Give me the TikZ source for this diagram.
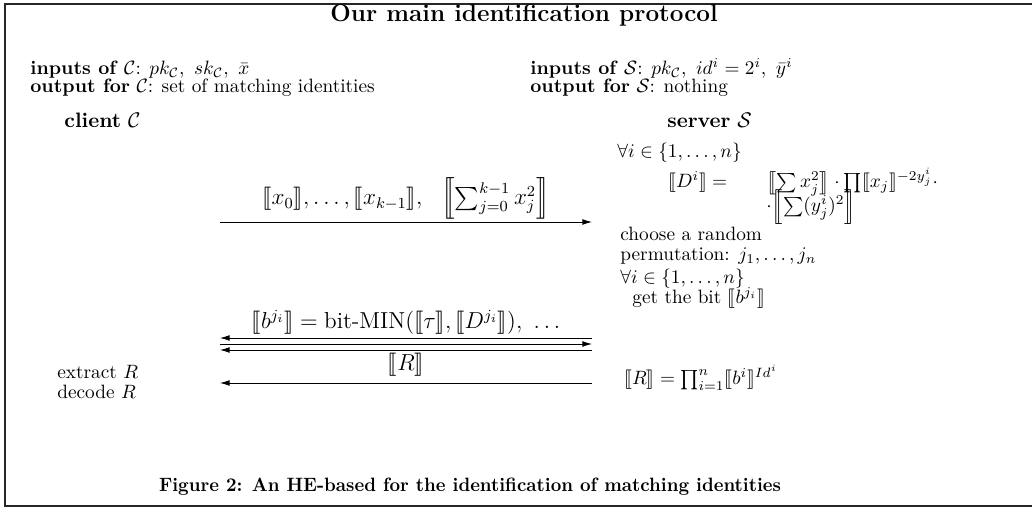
\documentclass[tikz,border=0pt]{standalone}
\usepackage{amsmath,amssymb}
\usepackage{stmaryrd}
\usetikzlibrary{arrows.meta}
\tikzset{
  txt/.style={anchor=west,inner sep=0pt,font=\normalsize},
  btxt/.style={anchor=base west,inner sep=0pt,font=\normalsize},
  msg/.style={line width=0.45pt,-{Latex[length=5pt,width=3pt]}},
  lbl/.style={above,inner sep=1.5pt,midway,font=\large},
  frame/.style={line width=0.9pt,draw=black!85}
}
\begin{document}
\begin{tikzpicture}[x=0.5184pt,y=-0.5184pt]
\useasboundingbox (0,0) rectangle (1032,508);
\draw[frame] (1040,4) -- (5,4) -- (5,506) -- (1040,506);
\node[anchor=base,inner sep=0pt,font=\fontsize{12.6}{15}\selectfont\bfseries] (title) at (524,22) {Our main identification protocol};
\node[btxt] (inC) at (30,75) {\textbf{inputs of} $\mathcal{C}$: $pk_{\mathcal{C}},\ sk_{\mathcal{C}},\ \bar{x}$};
\node[btxt] (outC) at (30,93) {\textbf{output for} $\mathcal{C}$: set of matching identities};
\node[btxt] (inS) at (530,75) {\textbf{inputs of} $\mathcal{S}$: $pk_{\mathcal{C}},\ id^i=2^i,\ \bar{y}^i$};
\node[btxt] (outS) at (530,93) {\textbf{output for} $\mathcal{S}$: nothing};
\node[btxt,font=\fontsize{10.8}{13}\selectfont] (client) at (64,128) {\textbf{client} $\mathcal{C}$};
\node[btxt,font=\fontsize{10.8}{13}\selectfont] (server) at (667,128) {\textbf{server} $\mathcal{S}$};
\node[txt] (fa1) at (617,153) {$\forall i\in\{1,\ldots,n\}$};
\node[btxt] (deq) at (668,188) {$\llbracket D^i\rrbracket=$};
\node[btxt] (deqb) at (766,188) {$\bigl\llbracket\sum x_j^2\bigr\rrbracket\cdot\prod\llbracket x_j\rrbracket^{-2y_j^i}\cdot$};
\node[btxt] (deq2) at (766,212) {$\cdot\Bigl\llbracket\sum(y_j^i)^2\Bigr\rrbracket$};
\node[txt] (choose) at (620,234) {choose a random};
\node[txt] (perm) at (620,256) {permutation: $j_1,\ldots,j_n$};
\node[txt] (fa2) at (620,279) {$\forall i\in\{1,\ldots,n\}$};
\node[txt] (getbit) at (632,298) {get the bit $\llbracket b^{j_i}\rrbracket$};
\node[txt] (req) at (624,378) {$\llbracket R\rrbracket=\prod_{i=1}^{n}\llbracket b^i\rrbracket^{Id^i}$};
\node[txt] (extract) at (57,372) {extract $R$};
\node[txt] (decode) at (57,392) {decode $R$};
\coordinate (a1L) at (220,222); \coordinate (a1R) at (592,222);
\coordinate (t1L) at (220,338); \coordinate (t1R) at (592,338);
\coordinate (t2L) at (220,344); \coordinate (t2R) at (592,344);
\coordinate (t3L) at (220,350); \coordinate (t3R) at (592,350);
\coordinate (rL) at (220,383); \coordinate (rR) at (592,383);
\draw[msg] (a1L) -- (a1R) node[lbl,inner sep=1pt] {$\llbracket x_0\rrbracket,\ldots,\llbracket x_{k-1}\rrbracket,\ \ \left\llbracket\sum_{j=0}^{k-1}x_j^2\right\rrbracket$};
\draw[msg] (t1R) -- (t1L) node[lbl] {$\llbracket b^{j_i}\rrbracket=\text{bit-MIN}(\llbracket\tau\rrbracket,\llbracket D^{j_i}\rrbracket),\ \ldots$};
\draw[msg] (t2L) -- (t2R);
\draw[msg] (t3R) -- (t3L);
\draw[msg] (rR) -- (rL) node[lbl,inner sep=3.5pt] {$\llbracket R\rrbracket$};
\node[anchor=base,inner sep=0pt,font=\bfseries,xscale=0.954] (cap) at (470,491) {Figure 2: An HE-based for the identification of matching identities};
\end{tikzpicture}
\end{document}
